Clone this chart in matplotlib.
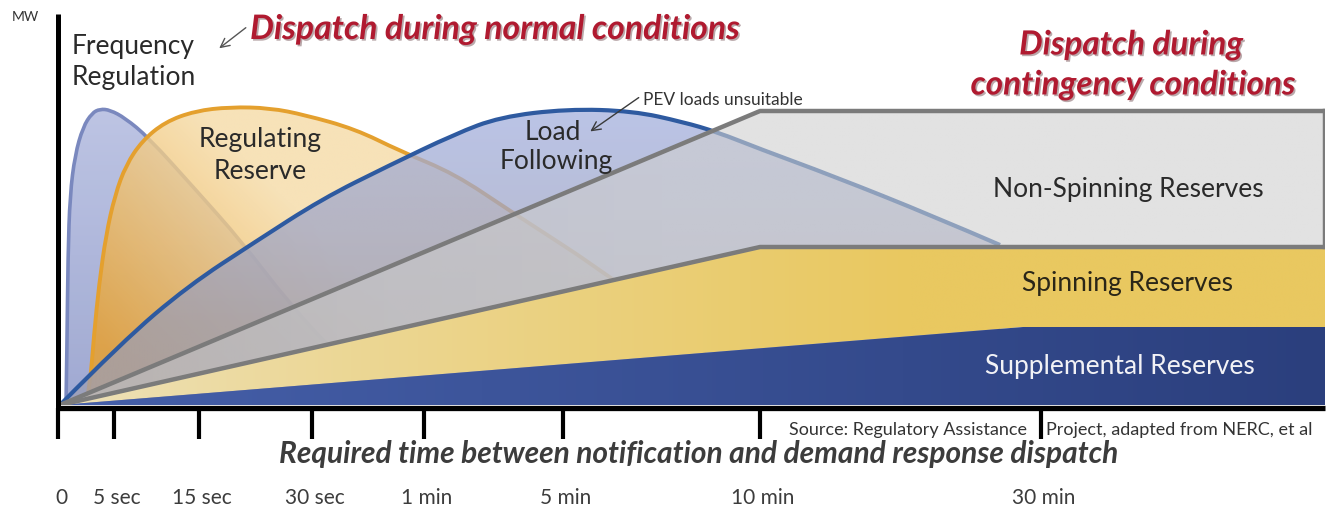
import numpy as np
import matplotlib
matplotlib.use("Agg")
import matplotlib.pyplot as plt
from matplotlib.path import Path
from matplotlib.patches import PathPatch
import matplotlib.patheffects as pe

plt.rcParams['font.family'] = ['Lato', 'DejaVu Sans']

# ---------------- data ----------------
tick_labels = ["0", "5 sec", "15 sec", "30 sec", "1 min", "5 min", "10 min", "30 min"]
tick_pos = [58, 114, 199, 312, 424, 563, 760, 1041]

# service curves (x = time scale position, y = MW, conceptual)
freq_reg_x = [66, 67, 68, 70, 75, 83, 92, 100, 110, 125, 148, 195, 242, 288, 340, 395]
freq_reg_y = [0, 60, 150, 210, 250, 278, 292, 296, 295, 287, 268, 216, 163, 103, 46, 0]

reg_res_x = [86, 90, 94, 99, 106, 115, 126, 142, 165, 195, 230, 270, 305, 355, 400, 455, 510, 600, 680, 760]
reg_res_y = [0, 20, 70, 120, 170, 210, 240, 264, 283, 294, 298, 297, 290, 276, 254, 231, 194, 136, 76, 0]

load_fol_x = [60, 122, 188, 255, 322, 388, 455, 500, 567, 633, 683, 717, 760, 833, 933, 1000]
load_fol_y = [0, 63, 119, 163, 206, 239, 271, 288, 296, 294, 283, 273, 256, 229, 189, 160]

# reserve bands (upper edges)
nonspin_x = [60, 760, 1325]
nonspin_y = [0, 294, 294]
spin_x = [60, 760, 1325]
spin_y = [0, 158, 158]
supp_x = [60, 1023, 1325]
supp_y = [0, 78, 78]

# ---------------- figure ----------------
W, H = 1328, 510
fig = plt.figure(figsize=(W / 100, H / 100), dpi=100)
X0, X1, YB, YT = 60, 1325, 406, 15
ax = fig.add_axes([X0 / W, (H - YB) / H, (X1 - X0) / W, (YB - YT) / H])
ax.set_xlim(X0, X1)
ax.set_ylim(0, YB - YT)
ax.axis('off')

NX, NY = 640, 220
gx = np.linspace(X0, X1, NX)
gy = np.linspace(0, YB - YT, NY)
GX, GY = np.meshgrid(gx, gy)


def hx(c):
    c = c.lstrip('#')
    return np.array([int(c[i:i + 2], 16) / 255 for i in (0, 2, 4)])


def lerp(c1, c2, t):
    t = np.clip(t, 0, 1)[..., None]
    return hx(c1) * (1 - t) + hx(c2) * t


def smooth(xs, ys):
    pts = list(zip(xs, ys))
    verts = [pts[0]]
    codes = [Path.MOVETO]
    n = len(pts)
    for i in range(1, n - 1):
        if i == n - 2:
            end = pts[i + 1]
        else:
            end = ((pts[i][0] + pts[i + 1][0]) / 2, (pts[i][1] + pts[i + 1][1]) / 2)
        verts += [pts[i], end]
        codes += [Path.CURVE3, Path.CURVE3]
    return verts, codes


def curve_paths(xs, ys):
    v, c = smooth(xs, ys)
    open_p = Path(v, c)
    v2 = v + [(xs[-1], 0), (xs[0], 0), (xs[0], 0)]
    c2 = c + [Path.LINETO, Path.LINETO, Path.CLOSEPOLY]
    return open_p, Path(v2, c2)


def gradient_fill(path, rgb, alpha, z):
    patch = PathPatch(path, facecolor='none', edgecolor='none', transform=ax.transData)
    ax.add_patch(patch)
    a = np.broadcast_to(np.asarray(alpha, dtype=float), GX.shape)
    img = np.dstack([rgb, a])
    im = ax.imshow(img, extent=(X0, X1, 0, YB - YT), origin='lower', aspect='auto',
                   interpolation='bilinear', zorder=z)
    im.set_clip_path(patch)


# frequency regulation
fr_open, fr_closed = curve_paths(freq_reg_x, freq_reg_y)
gradient_fill(fr_closed, lerp('#98A2CE', '#B8C0E2', GY / 300), 0.92, 1)
ax.add_patch(PathPatch(fr_open, facecolor='none', edgecolor='#7A88BE', lw=2.6, zorder=1.5))

# regulating reserve
rr_open, rr_closed = curve_paths(reg_res_x, reg_res_y)
t_rr = (GX - 100) / 330 + (GY - 60) / 330
gradient_fill(rr_closed, lerp('#EBA028', '#F5DBA6', t_rr), 0.8, 2)
ax.add_patch(PathPatch(rr_open, facecolor='none', edgecolor='#E4A02E', lw=2.8, zorder=2.5))

# load following
lf_open, lf_closed = curve_paths(load_fol_x, load_fol_y)
gradient_fill(lf_closed, lerp('#9C9EB4', '#A4B0DE', (GY - 80) / 210), 0.75, 3)
ax.add_patch(PathPatch(lf_open, facecolor='none', edgecolor='#2E5AA0', lw=3.0, zorder=3.5))

# reserves
def band(xt, yt, xb, yb):
    verts = list(zip(xt, yt)) + list(zip(xb[::-1], yb[::-1])) + [(xt[0], yt[0])]
    codes = [Path.MOVETO] + [Path.LINETO] * (len(verts) - 2) + [Path.CLOSEPOLY]
    return Path(verts, codes)

gradient_fill(band(nonspin_x, nonspin_y, spin_x, spin_y),
              lerp('#C2C2C4', '#CFCFCF', (GX - 60) / 600), 0.6, 4)
gradient_fill(band(spin_x, spin_y, supp_x, supp_y),
              lerp('#EEE2BC', '#E9C860', ((GX - 60) / 850) ** 0.8), 1.0, 5)
gradient_fill(band(supp_x, supp_y, [60, 1325], [0, 0]),
              lerp('#4660AA', '#2B3F7D', (GX - 60) / 1265), 1.0, 6)

edge = '#7B7B7B'
ax.plot(nonspin_x, nonspin_y, color=edge, lw=3.2, zorder=8, solid_capstyle='butt')
ax.plot(spin_x, spin_y, color=edge, lw=3.2, zorder=8, solid_capstyle='butt')
ax.plot([nonspin_x[-1], nonspin_x[-1]], [spin_y[-1], nonspin_y[-1]], color=edge, lw=3.2, zorder=8)

# axes
ax.plot([58, 58], [-3, YB - YT], color='black', lw=3.6, clip_on=False, zorder=9, solid_capstyle='butt')
ax.plot([56, X1], [-3, -3], color='black', lw=3.8, clip_on=False, zorder=9, solid_capstyle='butt')
for xp, lab in zip(tick_pos, tick_labels):
    ax.plot([xp, xp], [-3, -34], color='black', lw=3.0, clip_on=False, zorder=9, solid_capstyle='butt')
    ax.text(xp + 3, -92, lab, ha='center', va='center', fontsize=15, color='#3C3C3C')

def Y(py):
    return YB - py

txt = '#2A2A2A'
fs = 19
ax.text(12, Y(17), "MW", fontsize=10, color='#333333', va='center', ha='left')
ax.text(72, Y(47), "Frequency", fontsize=fs, color=txt, va='center', ha='left')
ax.text(72, Y(78), "Regulation", fontsize=fs, color=txt, va='center', ha='left')
ax.text(260, Y(140), "Regulating", fontsize=fs, color=txt, va='center', ha='center', zorder=20)
ax.text(260, Y(172), "Reserve", fontsize=fs, color=txt, va='center', ha='center', zorder=20)
ax.text(553, Y(133), "Load", fontsize=fs, color=txt, va='center', ha='center', zorder=20)
ax.text(556, Y(162), "Following", fontsize=fs, color=txt, va='center', ha='center', zorder=20)
ax.text(1128, Y(190), "Non-Spinning Reserves", fontsize=fs, color=txt, va='center', ha='center', zorder=20)
ax.text(1128, Y(284), "Spinning Reserves", fontsize=fs, color='#2A2618', va='center', ha='center', zorder=20)
ax.text(1120, Y(367), "Supplemental Reserves", fontsize=fs, color='#F2F2F6', va='center', ha='center', zorder=20)
ax.text(643, Y(100), "PEV loads unsuitable", fontsize=12.5, color='#333333', va='center', ha='left', zorder=20)
ax.annotate("", xy=(588, Y(134)), xytext=(641, Y(97)),
            arrowprops=dict(arrowstyle='->', color='#3A3A3A', lw=1.0, mutation_scale=16), zorder=20)

red = '#B01A30'
shadow = [pe.withSimplePatchShadow(offset=(1.2, -1.2), shadow_rgbFace='#3A0A10', alpha=0.35)]
ax.text(250, Y(30), "Dispatch during normal conditions", fontsize=24.3, color=red,
        fontweight='bold', fontstyle='italic', va='center', ha='left', path_effects=shadow)
ax.annotate("", xy=(217, Y(51)), xytext=(248, Y(27)),
            arrowprops=dict(arrowstyle='->', color='#555555', lw=1.0, mutation_scale=16))
ax.text(1131, Y(46), "Dispatch during", fontsize=24, color=red,
        fontweight='bold', fontstyle='italic', va='center', ha='center', path_effects=shadow)
ax.text(1133, Y(86), "contingency conditions", fontsize=24, color=red,
        fontweight='bold', fontstyle='italic', va='center', ha='center', path_effects=shadow)

ax.text(699, Y(454), "Required time between notification and demand response dispatch", fontsize=21.5,
        color='#3C3C3C', fontweight='bold', fontstyle='italic', va='center', ha='center')
ax.text(789, Y(430), "Source: Regulatory Assistance", fontsize=13, color='#333333', va='center', ha='left')
ax.text(1046, Y(430), "Project, adapted from NERC, et al", fontsize=13, color='#333333', va='center', ha='left')

fig.savefig("out.png", dpi=100)
